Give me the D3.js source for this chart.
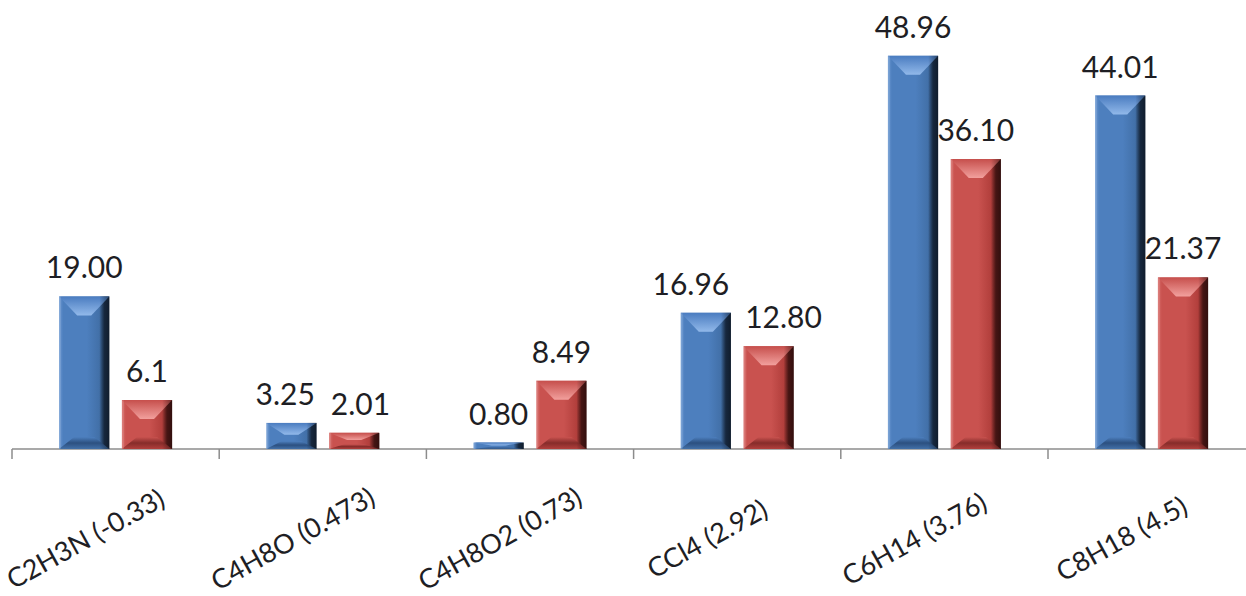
<!DOCTYPE html>
<html><head><meta charset="utf-8">
<script src="https://cdn.jsdelivr.net/npm/d3@7"></script>
<style>html,body{margin:0;padding:0;background:#fff;overflow:hidden}</style>
</head><body>
<svg id="c" width="1246" height="596"></svg>
<script>
const categories = ["C2H3N (-0.33)", "C4H8O (0.473)", "C4H8O2 (0.73)", "CCl4 (2.92)", "C6H14 (3.76)", "C8H18 (4.5)"];
const seriesNames = ["A", "B"];
const blueValues = [19.00, 3.25, 0.80, 16.96, 48.96, 44.01];
const redValues = [6.1, 2.01, 8.49, 12.80, 36.10, 21.37];
const blueLabels = ["19.00", "3.25", "0.80", "16.96", "48.96", "44.01"];
const redLabels = ["6.1", "2.01", "8.49", "12.80", "36.10", "21.37"];

const svg = d3.select("#c");
const x = d3.scaleBand().domain(categories).range([12, 1255.2]).paddingInner(0).paddingOuter(0);
const xs = d3.scaleBand().domain(seriesNames).range([0, x.bandwidth()]).paddingInner(0.2).paddingOuter(0.75);
const y = d3.scaleLinear().domain([0, 50]).range([449, 47.5]);

const pal = {
  A: {light:"#6b98d2", base:"#4d7fbe", mid:"#4270a8", dark:"#1d3350", roofTop:"#4a7cc0", roofBot:"#92b9ea", bottom:"#2c5080"},
  B: {light:"#d86e6b", base:"#c9524f", mid:"#b23f3c", dark:"#5a1b19", roofTop:"#c64f4c", roofBot:"#f2a09d", bottom:"#862c2a"}
};
const defs = svg.append("defs");
Object.entries(pal).forEach(([k,p])=>{
  const g = defs.append("linearGradient").attr("id","face"+k).attr("x1",0).attr("x2",1).attr("y1",0).attr("y2",0);
  [[0,p.light],[0.08,p.base],[0.55,p.base],[0.8,p.mid],[0.9,p.dark]].forEach(([o,c])=>g.append("stop").attr("offset",o).attr("stop-color",c));
  const r = defs.append("linearGradient").attr("id","roof"+k).attr("x1",0).attr("x2",0).attr("y1",0).attr("y2",1);
  r.append("stop").attr("offset",0).attr("stop-color",p.roofTop);
  r.append("stop").attr("offset",1).attr("stop-color",p.roofBot);
  const b = defs.append("linearGradient").attr("id","bot"+k).attr("x1",0).attr("x2",0).attr("y1",0).attr("y2",1);
  b.append("stop").attr("offset",0).attr("stop-color",p.base);
  b.append("stop").attr("offset",0.5).attr("stop-color",p.bottom);
  b.append("stop").attr("offset",1).attr("stop-color",p.mid);
});
const sh = defs.append("linearGradient").attr("id","rshade").attr("x1",0).attr("x2",1).attr("y1",0).attr("y2",0);
sh.append("stop").attr("offset",0).attr("stop-color","#000").attr("stop-opacity",0);
sh.append("stop").attr("offset",1).attr("stop-color","#000").attr("stop-opacity",0.45);

const rows = [];
categories.forEach((c,i)=>{
  rows.push({cat:c, s:"A", v:blueValues[i], label:blueLabels[i]});
  rows.push({cat:c, s:"B", v:redValues[i], label:redLabels[i]});
});

// axis
const axisG = svg.append("g").attr("transform","translate(0,449)");
axisG.append("line").attr("x1",x.range()[0]).attr("x2",1246).attr("y1",0).attr("y2",0).attr("stroke","#8c8c8c").attr("stroke-width",1.5);
const ticks = categories.map(c=>x(c)).concat([x.range()[1]]);
axisG.selectAll("line.t").data(ticks).join("line").attr("class","t")
  .attr("x1",d=>d).attr("x2",d=>d).attr("y1",0).attr("y2",10).attr("stroke","#8c8c8c").attr("stroke-width",1.5);

// bars
const bars = svg.append("g");
rows.forEach(d=>{
  const bx = x(d.cat) + xs(d.s), bw = xs.bandwidth();
  const top = y(d.v), h = y(0) - top;
  const g = bars.append("g");
  g.append("rect").attr("x",bx).attr("y",top).attr("width",bw).attr("height",h).attr("fill",`url(#face${d.s})`);
  const rh = Math.min(19, h*0.45), ri = Math.min(20, bw*0.36);
  g.append("polygon").attr("points",[[bx,top],[bx+bw,top],[bx+bw-ri,top+rh],[bx+ri,top+rh]].map(p=>p.join(",")).join(" "))
    .attr("fill",`url(#roof${d.s})`);
  const bh = Math.min(12, h*0.3), bi = Math.min(16, bw*0.3);
  g.append("polygon").attr("points",[[bx,top+h],[bx+bw,top+h],[bx+bw-bi,top+h-bh],[bx+bi,top+h-bh]].map(p=>p.join(",")).join(" "))
    .attr("fill",`url(#bot${d.s})`);
  g.append("rect").attr("x",bx+bw-10).attr("y",top).attr("width",10).attr("height",h).attr("fill","url(#rshade)");
  g.append("rect").attr("x",bx).attr("y",top).attr("width",2).attr("height",h).attr("fill","#fff").attr("opacity",0.12);
});

// value labels
const vl = svg.append("g").selectAll("text").data(rows).join("text")
  .attr("x",d=>x(d.cat)+xs(d.s)+xs.bandwidth()/2)
  .attr("y",d=>y(d.v)-18)
  .attr("text-anchor","middle")
  .attr("font-family","Lato, 'Open Sans', sans-serif")
  .attr("font-size",30)
  .attr("fill","#1e1e24")
  .text(d=>d.label);
// simple collision avoidance between the two labels of a category
const nodes = vl.nodes();
for (let i = 0; i < nodes.length; i += 2) {
  const a = nodes[i], b = nodes[i+1];
  const ya = +a.getAttribute("y"), yb = +b.getAttribute("y");
  if (Math.abs(ya - yb) > 40) continue;
  const xa = +a.getAttribute("x"), xb = +b.getAttribute("x");
  const ra = xa + a.getComputedTextLength()/2, lb = xb - b.getComputedTextLength()/2;
  const ov = ra + 16 - lb;
  if (ov > 0) {
    a.setAttribute("x", xa - ov/2);
    b.setAttribute("x", xb + ov/2);
  }
}

// category labels
svg.append("g").selectAll("text").data(categories).join("text")
  .attr("transform",c=>`translate(${x(c)+x.bandwidth()/2-30},539) rotate(-29)`)
  .attr("text-anchor","middle")
  .attr("dy","0.35em")
  .attr("font-family","Lato, 'Open Sans', sans-serif")
  .attr("font-size",27)
  .attr("fill","#1e1e24")
  .text(c=>c);
</script>
</body></html>
